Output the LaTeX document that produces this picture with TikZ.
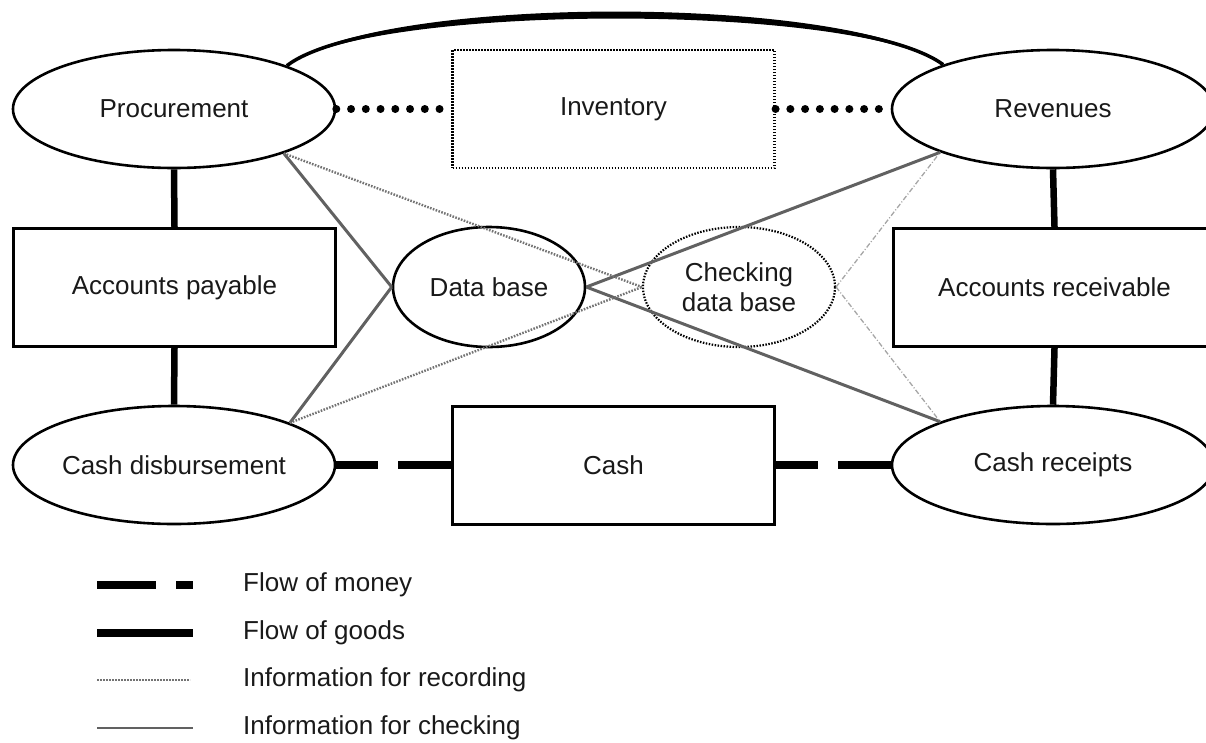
\documentclass[tikz,border=0pt]{standalone}
\usepackage{fontspec}
\setmainfont{Liberation Sans}
\usetikzlibrary{shapes.geometric}
\begin{document}
\begin{tikzpicture}[x=1pt,y=-1pt,
  every node/.style={font=\fontsize{26}{30}\selectfont, text=black!90},
  activity/.style={ellipse, draw, line width=2.6pt, minimum width=322pt, minimum height=118pt, inner sep=0pt},
  dbnode/.style={ellipse, draw, line width=2.6pt, minimum width=192pt, minimum height=120pt, inner sep=0pt, align=center},
  ledger/.style={rectangle, draw, line width=3pt, minimum width=322pt, minimum height=118pt, inner sep=0pt},
  dotborder/.style={line width=2.2pt, dash pattern=on 1.5pt off 1.5pt},
  goods/.style={draw=black, line width=6.5pt},
  money/.style={draw=black, line width=8pt, dash pattern=on 42pt off 20pt on 200pt},
  moneykey/.style={draw=black, line width=8pt, dash pattern=on 59pt off 20pt on 40pt},
  stock/.style={draw=black, line width=8pt, line cap=round, dash pattern=on 0pt off 14.75pt},
  checking/.style={draw=black!62, line width=3pt},
  recording/.style={draw=black!55, line width=2.4pt, dash pattern=on 1.6pt off 1.4pt},
  recordinglight/.style={draw=black!35, line width=1.3pt, dash pattern=on 5pt off 2pt on 1pt off 2pt},
  keytext/.style={anchor=west, inner sep=0pt}
]
\clip (0,0) rectangle (1206,742);

% activities (ellipses) and ledgers (boxes)
\node[activity] (proc) at (174,109) {Procurement};
\node[activity] (rev)  at (1053,109) {Revenues};
\node[activity] (cd)   at (174,465) {Cash disbursement};
\node[activity] (cr)   at (1053,465) {Cash receipts};
\node[ledger, dotborder] (inv) at (613.5,109) {Inventory};
\node[ledger] (ap)   at (174.5,287.5) {Accounts payable};
\node[ledger] (ar)   at (1054.5,287.5) {Accounts receivable};
\node[ledger] (cash) at (613.5,465) {Cash};
\node[dbnode] (db)  at (489,287) {Data base};
\node[dbnode, dotborder] (cdb) at (739,287) {Checking\\data base};

% flow of goods: a swelling arc over the inventory
\fill (proc.21.4) .. controls (375,-6.3) and (853,-6.3) .. (rev.158.6)
      .. controls (853,3) and (375,3) .. cycle;
\draw[black, line width=3.5pt] (proc.21.4) .. controls (375,-1.7) and (853,-1.7) .. (rev.158.6);
\draw[goods] (proc.south) -- (ap.north);
\draw[goods] (ap.south) -- (cd.north);
\draw[goods] (rev.south) -- (ar.north);
\draw[goods] (ar.south) -- (cr.north);

% inventory movements
\draw[stock] (proc.east) -- (inv.west);
\draw[stock] (inv.east) -- (rev.west);

% flow of money
\draw[money] (cd.east) -- (cash.west);
\draw[money] (cash.east) -- (cr.west);

% information for checking
\draw[checking] (proc.-22) -- (db.west);
\draw[checking] (cd.20.5) -- (db.west);
\draw[checking] (db.east) -- (rev.201);
\draw[checking] (db.east) -- (cr.159.5);

% information for recording
\draw[recording] (proc.-22) -- (cdb.west);
\draw[recording] (cd.20.5) -- (cdb.west);
\draw[recordinglight] (cdb.east) -- (rev.201);
\draw[recordinglight] (cdb.east) -- (cr.159.5);

% key
\coordinate (k1a) at (97,585);  \coordinate (k1b) at (193,585);
\coordinate (k2a) at (97,633);  \coordinate (k2b) at (193,633);
\coordinate (k3a) at (97,680);  \coordinate (k3b) at (190,680);
\coordinate (k4a) at (97,728);  \coordinate (k4b) at (193,728);
\draw[moneykey] (k1a) -- (k1b);
\draw[draw=black, line width=8pt] (k2a) -- (k2b);
\draw[recording, line width=2pt] (k3a) -- (k3b);
\draw[checking, line width=2.6pt] (k4a) -- (k4b);
\node[keytext] (t1) at (243,585) {Flow of money};
\node[keytext] (t2) at (243,633) {Flow of goods};
\node[keytext] (t3) at (243,680) {Information for recording};
\node[keytext] (t4) at (243,728) {Information for checking};
\end{tikzpicture}
\end{document}
